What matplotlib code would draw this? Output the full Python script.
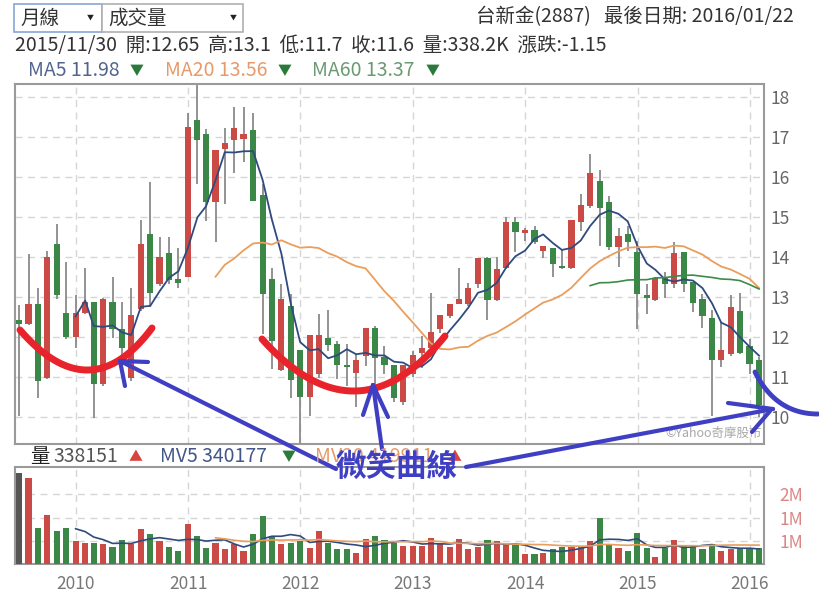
import numpy as np
import pandas as pd
import matplotlib
matplotlib.use("Agg")
import matplotlib.pyplot as plt
from matplotlib.patches import Rectangle

plt.rcParams['font.family'] = ['Noto Sans CJK TC', 'DejaVu Sans']

# monthly candles, Jun 2009 .. Jan 2016 (dated at month end)
months = pd.date_range("2009-06-30", periods=80, freq="ME")

open_ = [12.43, 12.32, 12.82, 10.98, 14.33, 12.6, 12.0, 12.6, 12.86, 10.82,
         12.86, 12.2, 10.98, 12.69, 14.58, 13.32, 14.1, 13.44, 13.5, 17.42,
         17.07, 15.36, 16.69, 16.92, 16.94, 17.18, 15.55, 13.44, 11.17, 12.78,
         11.68, 10.5, 11.07, 11.96, 11.82, 11.27, 11.1, 11.52, 12.21, 11.5,
         11.3, 10.36, 11.07, 11.6, 11.73, 12.19, 12.52, 12.82, 12.82, 13.32,
         13.98, 12.92, 13.73, 14.88, 14.59, 14.67, 14.15, 14.23, 13.75, 13.72,
         14.88, 15.26, 15.9, 15.38, 14.25, 14.58, 14.13, 13.05, 12.92, 13.47,
         13.32, 14.13, 13.36, 12.94, 12.47, 11.42, 11.57, 12.65, 11.76, 11.42]
high = [12.8, 14.07, 13.22, 14.15, 14.82, 13.86, 13.05, 13.73, 12.86, 12.98,
        13.5, 12.86, 13.22, 14.92, 15.88, 14.5, 14.5, 14.23, 17.6, 18.3,
        17.19, 16.68, 17.23, 17.75, 17.75, 17.6, 15.82, 13.73, 13.33, 13.07,
        11.68, 12.05, 12.57, 12.67, 11.9, 11.82, 11.57, 12.22, 12.28, 11.78,
        11.3, 11.3, 11.65, 12.02, 13.1, 12.55, 12.82, 13.73, 13.34, 13.97,
        14.0, 14.0, 15.0, 15.0, 14.73, 14.78, 14.26, 14.23, 14.2, 14.92,
        15.57, 16.58, 16.18, 15.53, 14.73, 14.76, 14.4, 13.33, 13.5, 13.61,
        14.36, 14.13, 13.36, 13.07, 12.67, 12.36, 13.05, 13.1, 11.94, 11.5]
low = [10.03, 12.3, 10.48, 10.95, 12.94, 11.94, 11.73, 12.57, 9.98, 10.78,
       11.98, 11.07, 10.9, 12.65, 12.75, 13.28, 13.33, 13.23, 13.5, 15.83,
       14.9, 14.36, 15.32, 16.1, 16.36, 15.4, 12.07, 11.19, 11.15, 10.47,
       9.3, 10.03, 10.98, 11.65, 10.94, 10.78, 10.25, 11.27, 10.78, 11.07,
       10.36, 10.3, 11.0, 11.23, 11.65, 12.1, 12.48, 12.82, 12.78, 13.23,
       12.42, 12.9, 13.69, 14.11, 14.4, 14.33, 13.98, 13.5, 13.7, 13.69,
       14.65, 15.23, 14.27, 14.17, 13.75, 14.15, 12.19, 12.57, 12.9, 12.98,
       13.23, 13.13, 12.61, 12.23, 10.03, 11.25, 11.53, 11.57, 11.07, 10.0]
close = [12.32, 12.82, 10.9, 14.0, 13.05, 12.0, 12.6, 12.88, 10.82, 12.94,
         12.19, 11.73, 12.54, 14.33, 13.09, 14.0, 13.42, 13.34, 17.25, 16.92,
         15.38, 16.68, 16.84, 17.22, 17.07, 15.4, 13.08, 11.9, 12.94, 10.92,
         10.5, 12.05, 12.05, 11.8, 11.3, 11.25, 11.42, 12.22, 11.48, 11.3,
         10.47, 11.3, 11.55, 11.73, 12.13, 12.55, 12.82, 12.94, 13.22, 13.97,
         12.92, 13.69, 14.88, 14.61, 14.67, 14.38, 14.26, 13.82, 13.73, 14.92,
         15.3, 16.09, 15.22, 14.25, 14.51, 14.36, 13.07, 12.97, 13.46, 13.32,
         14.09, 13.32, 12.84, 12.52, 11.42, 11.67, 12.75, 11.6, 11.32, 10.3]
# volume in millions of shares
volume = [1.95, 1.86, 0.77, 1.05, 0.71, 0.77, 0.50, 0.46, 0.46, 0.43,
          0.37, 0.52, 0.43, 0.75, 0.64, 0.50, 0.37, 0.28, 0.87, 0.61,
          0.34, 0.46, 0.32, 0.43, 0.28, 0.64, 1.04, 0.60, 0.43, 0.46,
          0.49, 0.34, 0.71, 0.46, 0.32, 0.32, 0.24, 0.53, 0.61, 0.52,
          0.46, 0.39, 0.39, 0.39, 0.57, 0.43, 0.37, 0.54, 0.32, 0.37,
          0.52, 0.49, 0.40, 0.40, 0.22, 0.21, 0.24, 0.32, 0.36, 0.36,
          0.39, 0.49, 1.00, 0.43, 0.34, 0.28, 0.67, 0.34, 0.16, 0.34,
          0.52, 0.41, 0.41, 0.32, 0.43, 0.29, 0.32, 0.338, 0.32, 0.35]
years = ["2010", "2011", "2012", "2013", "2014", "2015", "2016"]

RED = "#cc4a46"
GREEN = "#3b8748"
C_MA5 = "#2f4b7e"
C_MA20 = "#e99e5c"
C_MA60 = "#3d8a4a"
INK = "#3f3fc4"

df = pd.DataFrame({"o": open_, "h": high, "l": low, "c": close, "v": volume}, index=months)
up = df.c >= df.o
colors = np.where(up, RED, GREEN)


def moving(series, n):
    m = series.rolling(n).mean()
    m.iloc[:n + 1] = np.nan
    return m


fig = plt.figure(figsize=(8.2, 6.05), dpi=100)
ax = fig.add_axes([15 / 820, 1 - 444 / 605, 749 / 820, 360 / 605])
axv = fig.add_axes([15 / 820, 1 - 564 / 605, 749 / 820, 97 / 605])

x0, x1 = pd.Timestamp("2009-06-17"), pd.Timestamp("2016-02-16")
yticks = [pd.Timestamp(f"{y}-01-01") for y in years]

# price panel
ax.vlines(df.index, df.l, df.h, color="#8a8a8a", lw=1.3, zorder=2)
body = np.maximum((df.c - df.o).abs(), 0.05)
ax.bar(df.index, body, bottom=np.minimum(df.o, df.c), width=20, color=colors, zorder=3)
ax.plot(df.index, moving(df.c, 5), color=C_MA5, lw=1.3, zorder=4)
ax.plot(df.index, moving(df.c, 20), color=C_MA20, lw=1.3, zorder=4)
ax.plot(df.index, moving(df.c, 60), color=C_MA60, lw=1.2, zorder=4)
ax.set_ylim(9.32, 18.32)
ax.set_yticks(range(10, 19))
ax.yaxis.tick_right()

# volume panel
vcol = list(colors)
vcol[0] = "#555555"
axv.bar(df.index, df.v, width=20, color=vcol, zorder=3)
axv.plot(df.index, moving(df.v, 5), color=C_MA5, lw=1.2, zorder=4)
axv.plot(df.index, moving(df.v, 20), color=C_MA20, lw=1.2, zorder=4)
axv.set_ylim(0, 2.09)
axv.set_yticks([0.5, 1.0, 1.5])
axv.set_yticklabels(["1M", "1M", "2M"])
axv.yaxis.tick_right()

for a in (ax, axv):
    a.set_xlim(x0, x1)
    a.set_xticks(yticks)
    a.grid(True, ls=(0, (5, 4)), color="#d6d6d6", lw=1, zorder=0)
    for s in a.spines.values():
        s.set_color("#9a9a9a")
        s.set_linewidth(1.5)
    a.tick_params(length=0)
ax.set_xticklabels([])
axv.set_xticklabels(years)
ax.tick_params(axis="y", pad=5, labelsize=12.5, labelcolor="#666666")
axv.tick_params(axis="y", pad=11, labelsize=12.5, labelcolor="#dc8585")
axv.tick_params(axis="x", pad=8, labelsize=12.5, labelcolor="#777777")

ax.text(0.997, 0.012, "©Yahoo奇摩股市", transform=ax.transAxes, ha="right", va="bottom",
        fontsize=9, color="#a8a8a8", zorder=5)

# overlay in pixel coordinates for header texts and hand-drawn marks
ov = fig.add_axes([0, 0, 1, 1], zorder=10)
ov.set_xlim(0, 820)
ov.set_ylim(605, 0)
ov.axis("off")
ov.patch.set_alpha(0)

ov.add_patch(Rectangle((14, 4), 88, 28, fc="white", ec="#86a6d6", lw=1.2))
ov.add_patch(Rectangle((102, 4), 141, 28, fc="white", ec="#b0b0b0", lw=1.2))
ov.text(20, 18, "月線", fontsize=14, va="center", color="#333333")
ov.text(90, 18, "▼", fontsize=5, va="center", ha="center", color="#222222")
ov.text(108, 18, "成交量", fontsize=14, va="center", color="#333333")
ov.text(233, 18, "▼", fontsize=5, va="center", ha="center", color="#222222")
ov.text(794, 17, "台新金(2887)   最後日期: 2016/01/22", fontsize=14, va="center", ha="right", color="#333333")
ov.text(15, 46, "2015/11/30  開:12.65  高:13.1  低:11.7  收:11.6  量:338.2K  漲跌:-1.15",
        fontsize=14, va="center", color="#333333")

ov.text(28, 71, "MA5 11.98", fontsize=14, va="center", color="#52658f")
ov.text(137, 71, "▼", fontsize=10, va="center", ha="center", color="#2b7a3b")
ov.text(165, 71, "MA20 13.56", fontsize=14, va="center", color="#e69a6a")
ov.text(285, 71, "▼", fontsize=10, va="center", ha="center", color="#2b7a3b")
ov.text(312, 71, "MA60 13.37", fontsize=14, va="center", color="#6b9a72")
ov.text(433, 71, "▼", fontsize=10, va="center", ha="center", color="#2b7a3b")

ov.text(30, 457, "量", fontsize=14, va="center", color="#222222")
ov.text(53, 457, "338151", fontsize=14, va="center", color="#555555")
ov.text(136, 457, "▲", fontsize=10, va="center", ha="center", color="#d9443f")
ov.text(160, 457, "MV5 340177", fontsize=14, va="center", color="#43568a")
ov.text(289, 457, "▼", fontsize=10, va="center", ha="center", color="#2b7a3b")
ov.text(315, 457, "MV20 419911", fontsize=14, va="center", color="#e69a6a")
ov.text(455, 457, "▲", fontsize=10, va="center", ha="center", color="#d9443f")


def bezier(p0, p1, p2, n=60):
    t = np.linspace(0, 1, n)[:, None]
    p0, p1, p2 = map(np.asarray, (p0, p1, p2))
    pts = (1 - t) ** 2 * p0 + 2 * t * (1 - t) * p1 + t ** 2 * p2
    return pts[:, 0], pts[:, 1]


# red smile curves
for p0, m, p2 in [((20, 330), (88, 370), (152, 328)), ((262, 339), (355, 391), (445, 336))]:
    ctrl = (2 * m[0] - 0.5 * (p0[0] + p2[0]), 2 * m[1] - 0.5 * (p0[1] + p2[1]))
    bx, by = bezier(p0, ctrl, p2)
    ov.plot(bx, by, color="#e8232b", lw=5, solid_capstyle="round")

# blue arrows
strokes = [
    [(336, 469), (120, 361)], [(120, 361), (148, 362)], [(120, 361), (125, 386)],
    [(382, 449), (373, 385)], [(373, 385), (363, 415)], [(373, 385), (388, 417)],
    [(466, 467), (773, 409)], [(728, 403), (773, 409)], [(752, 432), (770, 411)],
]
for s in strokes:
    xs, ys = zip(*s)
    ov.plot(xs, ys, color=INK, lw=3, solid_capstyle="round")
bx, by = bezier((755, 372), (776, 414), (818, 414))
ov.plot(bx, by, color=INK, lw=3.5, solid_capstyle="round")

ov.text(336, 467, "微笑曲線", fontsize=22, fontweight="bold", va="center", color=INK, zorder=12)

fig.savefig("out.png", dpi=100)
